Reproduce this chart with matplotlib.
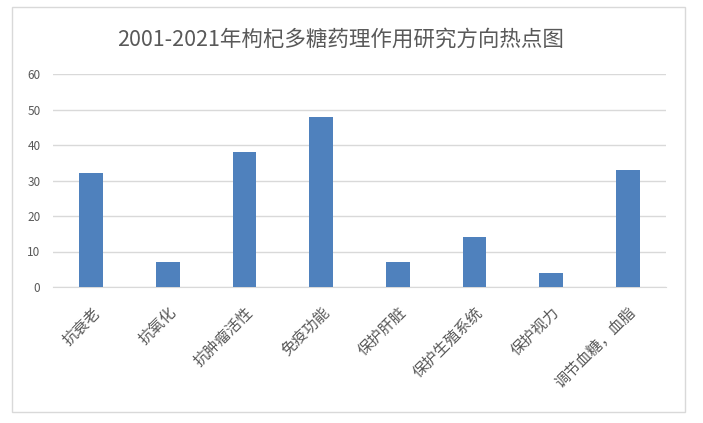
import numpy as np
import matplotlib.pyplot as plt
import matplotlib.patches as patches
import matplotlib.transforms as mtransforms

plt.rcParams['font.family'] = ['Noto Sans CJK SC', 'DejaVu Sans']

title = "2001-2021年枸杞多糖药理作用研究方向热点图"
categories = ["抗衰老", "抗氧化", "抗肿瘤活性", "免疫功能",
              "保护肝脏", "保护生殖系统", "保护视力", "调节血糖，血脂"]
values = [32, 7, 38, 48, 7, 14, 4, 33]
y_ticks = [0, 10, 20, 30, 40, 50, 60]


def main():
    fig = plt.figure(figsize=(7.03, 4.23), dpi=100)
    W, H = 703, 423

    # outer chart frame
    frame = patches.Rectangle((12 / W, 1 - 412 / H), (685 - 12) / W, (412 - 7) / H,
                              transform=fig.transFigure, fill=False,
                              edgecolor='#d9d9d9', linewidth=1.0)
    fig.patches.append(frame)

    ax = fig.add_axes([53 / W, 1 - 287 / H, (666 - 53) / W, (287 - 74) / H])
    x = np.arange(len(categories))
    ax.bar(x, values, width=0.31, color='#4f81bd', zorder=3)

    ax.set_xlim(-0.5, len(categories) - 0.5)
    ax.set_ylim(0, 60)
    ax.set_yticks(y_ticks)
    ax.set_yticklabels([str(v) for v in y_ticks], color='#595959', fontsize=8.5)
    ax.yaxis.grid(True, color='#d9d9d9', linewidth=1.0, zorder=0)
    for s in ['top', 'right', 'left']:
        ax.spines[s].set_visible(False)
    ax.spines['bottom'].set_color('#d9d9d9')
    ax.tick_params(axis='both', length=0)
    ax.tick_params(axis='y', pad=9)
    ax.tick_params(axis='x', pad=0)

    ax.set_xticks(x)
    ax.set_xticklabels(categories, rotation=45, ha='right', va='top',
                       rotation_mode='anchor', color='#595959', fontsize=11)
    offset = mtransforms.ScaledTranslation(0, -0.17, fig.dpi_scale_trans)
    for lab in ax.get_xticklabels():
        lab.set_transform(lab.get_transform() + offset)

    fig.text(341 / W, 1 - 40 / H, title, ha='center', va='center',
             fontsize=15.5, color='#595959')

    fig.savefig('out.png', dpi=100)


main()
